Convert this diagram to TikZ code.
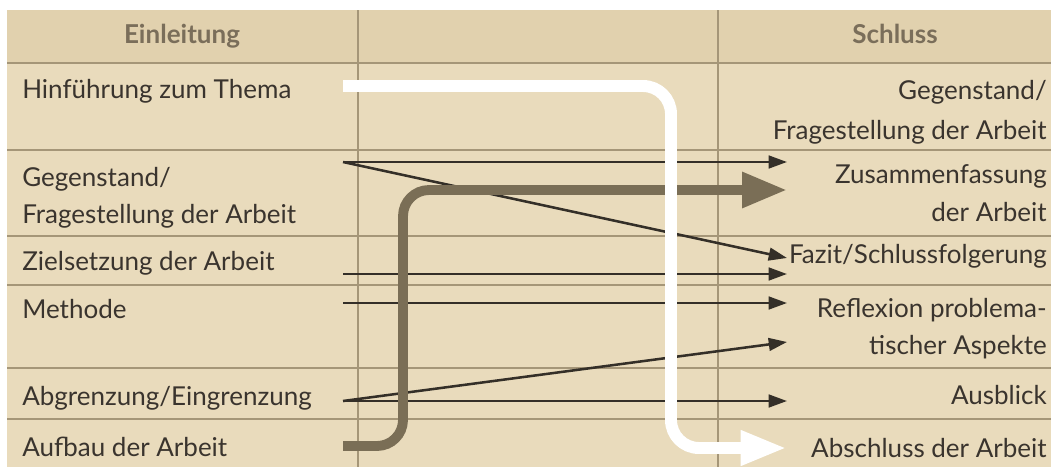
\documentclass[tikz,border=0pt]{standalone}
\usepackage{fontspec}
\setmainfont{Lato}
\usetikzlibrary{arrows.meta}

\definecolor{bodytan}{RGB}{233,219,188}
\definecolor{headtan}{RGB}{225,209,174}
\definecolor{gridcol}{RGB}{165,150,120}
\definecolor{textcol}{RGB}{58,52,46}
\definecolor{headcol}{RGB}{122,110,90}
\definecolor{linkcol}{RGB}{52,47,40}
\definecolor{barcol}{RGB}{122,110,86}

\begin{document}
\begin{tikzpicture}[x=0.025cm, y=-0.025cm,
  cell/.style={font=\fontsize{18.5}{22}\selectfont, text=textcol, inner sep=0pt},
  head/.style={font=\fontsize{18.5}{22}\selectfont\bfseries, text=headcol, inner sep=0pt},
  rule/.style={draw=gridcol, line width=1pt},
  link/.style={draw=linkcol, line width=1.8pt, -{Triangle[length=13pt,width=9pt]}},
  bar/.style={draw=barcol, line width=7pt, rounded corners=0.65cm, -{Triangle[length=32pt,width=24pt]}},
  trail/.style={draw=white, line width=8.5pt, rounded corners=0.7cm, -{Triangle[length=33pt,width=23pt]}}]
\useasboundingbox (0,0) rectangle (1051,467);
\clip (0,0) rectangle (1051,467);

% Table
\fill[headtan] (7,10) rectangle (1060,63);
\fill[bodytan] (7,63) rectangle (1060,467);
\foreach \y in {63,150,236,285,368,419} {
  \draw[rule] (7,\y) -- (1060,\y);
}
\foreach \x in {358,718} {
  \draw[rule] (\x,10) -- (\x,467);
}

% Header
\node[head, anchor=base] (hEin) at (182,43) {Einleitung};
\node[head, anchor=base] (hSchl) at (895,43) {Schluss};

% Einleitung
\node[cell, anchor=base west] (lThema) at (22,98) {Hinführung zum Thema};
\node[cell, anchor=base west] (lGegen) at (22,186) {Gegenstand/};
\node[cell, anchor=base west] (lFrage) at (22,223) {Fragestellung der Arbeit};
\node[cell, anchor=base west] (lZiel) at (22,270) {Zielsetzung der Arbeit};
\node[cell, anchor=base west] (lMeth) at (22,318) {Methode};
\node[cell, anchor=base west] (lAbgr) at (22,405) {Abgrenzung/Eingrenzung};
\node[cell, anchor=base west] (lAufb) at (22,456) {Aufbau der Arbeit};

% Schluss
\node[cell, anchor=base east] (rGegen) at (1047,99) {Gegenstand/};
\node[cell, anchor=base east] (rFrage) at (1047,139) {Fragestellung der Arbeit};
\node[cell, anchor=base east] (rZus) at (1047,183) {Zusammenfassung};
\node[cell, anchor=base east] (rZusB) at (1047,221) {der Arbeit};
\node[cell, anchor=base east] (rFazit) at (1047,263) {Fazit/Schlussfolgerung};
\node[cell, anchor=base east] (rRefl) at (1047,317) {Reflexion problema-};
\node[cell, anchor=base east] (rReflB) at (1047,354) {tischer Aspekte};
\node[cell, anchor=base east] (rAus) at (1047,404) {Ausblick};
\node[cell, anchor=base east] (rAbs) at (1047,457) {Abschluss der Arbeit};

% Start and end points
\coordinate (sGegen) at (343,162);
\coordinate (sZiel) at (343,274);
\coordinate (sMeth) at (343,303);
\coordinate (sAbgr) at (343,401);
\coordinate (sAufb) at (343,446);
\coordinate (sThema) at (343,86);
\coordinate (eGegen) at (787,162);
\coordinate (eFazit) at (787,258);
\coordinate (eZiel) at (787,274);
\coordinate (eMeth) at (787,303);
\coordinate (eRefl) at (787,342);
\coordinate (eAus) at (787,401);
\coordinate (eZus) at (787,190);
\coordinate (eAbs) at (787,448);

% Thin arrows
\draw[link] (sGegen) -- (eGegen);
\draw[link] (sGegen) -- (eFazit);
\draw[link] (sZiel) -- (eZiel);
\draw[link] (sMeth) -- (eMeth);
\draw[link] (sAbgr) -- (eRefl);
\draw[link] (sAbgr) -- (eAus);

% Aufbau -> Zusammenfassung
\draw[bar] (sAufb) -- (403,446) -- (403,190) -- (eZus);

% Hinfuehrung -> Abschluss
\draw[trail] (sThema) -- (671,86) -- (671,448) -- (eAbs);
\end{tikzpicture}
\end{document}
